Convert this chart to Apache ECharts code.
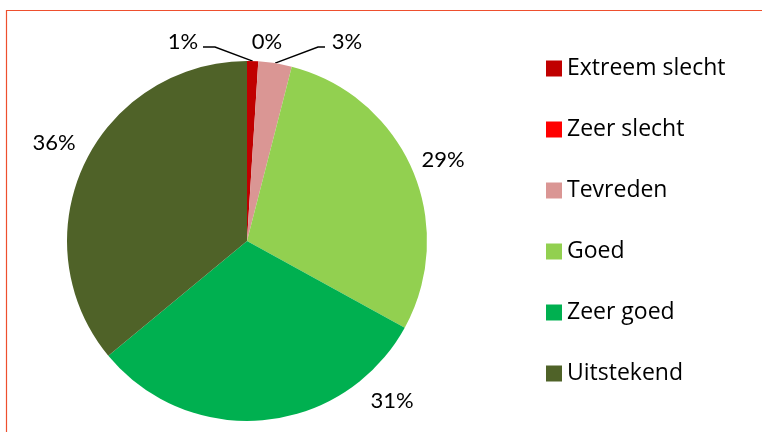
<!DOCTYPE html>
<html>
<head>
<meta charset="utf-8">
<script src="https://cdn.jsdelivr.net/npm/echarts@6/dist/echarts.min.js"></script>
<style>
  html, body { margin: 0; padding: 0; background: #fff; }
  #chart { width: 762px; height: 432px; }
</style>
</head>
<body>
<div id="chart"></div>
<script>
const categories = ['Extreem slecht', 'Zeer slecht', 'Tevreden', 'Goed', 'Zeer goed', 'Uitstekend'];
const shares = [1, 0, 3, 29, 31, 36];
const sliceColors = ['#C00000', '#FF0000', '#DA9694', '#92D050', '#00B050', '#4F6228'];

// Excel put these labels by hand, so pin them where the reference has them.
// lead = x offsets (from label centre) of the leader line's bend and end
const labelSpots = [
  { x: 183, y: 42, lead: [32, 20] },
  { x: 267, y: 42 },
  { x: 347, y: 42, lead: [-29, -22] },
  { x: 443, y: 160 },
  { x: 392, y: 401 },
  { x: 54, y: 143 },
];

const chart = echarts.init(document.getElementById('chart'));

const pieData = categories.map((name, i) => ({
  name: name,
  value: shares[i],
  itemStyle: { color: sliceColors[i] },
  labelLine: { show: !!labelSpots[i].lead },
}));

chart.setOption({
  animation: false,
  textStyle: { fontFamily: 'Lato' },
  graphic: [
    {
      type: 'rect',
      silent: true,
      shape: { x: 6.5, y: 10.5, width: 800, height: 500 },
      style: { fill: 'none', stroke: '#EE4F2E', lineWidth: 1.2 },
    },
  ],
  legend: {
    orient: 'vertical',
    left: 541,
    top: 52,
    itemWidth: 16,
    itemHeight: 16,
    itemGap: 38,
    icon: 'rect',
    data: categories,
    textStyle: { fontFamily: 'Open Sans', fontSize: 23, color: '#000' },
  },
  series: [
    {
      type: 'pie',
      center: [247, 241],
      radius: 180,
      startAngle: 90,
      clockwise: true,
      avoidLabelOverlap: false,
      data: pieData,
      label: {
        show: true,
        position: 'outside',
        fontFamily: 'Lato',
        fontSize: 22,
        color: '#000',
        formatter: (p) => Math.round(p.percent) + '%',
      },
      labelLine: {
        show: true,
        lineStyle: { color: '#000', width: 1.4 },
      },
      labelLayout: (params) => {
        const spot = labelSpots[params.dataIndex];
        const out = { x: spot.x, y: spot.y, align: 'center', verticalAlign: 'middle' };
        if (spot.lead && params.labelLinePoints) {
          const start = params.labelLinePoints[0];
          out.labelLinePoints = [
            start,
            [spot.x + spot.lead[0], spot.y + 5],
            [spot.x + spot.lead[1], spot.y + 5],
          ];
        }
        return out;
      },
      emphasis: { disabled: true },
    },
  ],
});
</script>
</body>
</html>
